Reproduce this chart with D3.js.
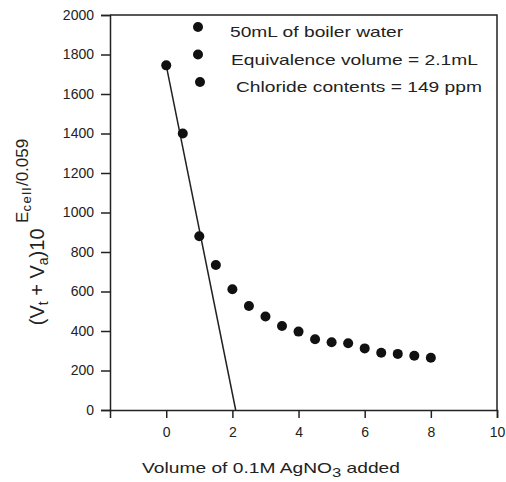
<!DOCTYPE html>
<html>
<head>
<meta charset="utf-8">
<script src="https://cdn.jsdelivr.net/npm/d3@7"></script>
<style>
  html, body { margin: 0; padding: 0; background: #fff; }
  svg { display: block; }
  text { font-family: "Liberation Sans", Arial, sans-serif; fill: #222; }
</style>
</head>
<body>
<svg id="chart" width="506" height="482"></svg>
<script>
// Titration data: volume of AgNO3 added (mL) vs Gran function value
const volumes = [0, 0.5, 1.0, 1.5, 2.0, 2.5, 3.0, 3.5, 4.0, 4.5, 5.0, 5.5, 6.0, 6.5, 7.0, 7.5, 8.0];
const granValues = [1745, 1400, 880, 734, 611, 527, 473, 425, 397, 358, 343, 338, 312, 290, 284, 275, 265];

// Linear fit through the early points, extrapolated to the equivalence volume
const fitX = [0, 2.1];
const fitY = [1745, 0];

const xTicks = [0, 2, 4, 6, 8, 10];
const yTicks = [0, 200, 400, 600, 800, 1000, 1200, 1400, 1600, 1800, 2000];

const legendLines = [
  "50mL of boiler water",
  "Equivalence volume = 2.1mL",
  "Chloride contents = 149 ppm"
];

const svg = d3.select("#chart");
const plotLeft = 110, plotRight = 497, plotTop = 15, plotBottom = 410;

const x = d3.scaleLinear().domain([-1.7, 10]).range([plotLeft, plotRight]);
const y = d3.scaleLinear().domain([0, 2000]).range([plotBottom, plotTop]);

const ink = "#222";
const wide = 1.28; // horizontal stretch applied to the annotation text

// Frame (top and right edges)
svg.append("path")
  .attr("d", `M${plotLeft},${plotTop}H${plotRight}V${plotBottom}`)
  .attr("fill", "none").attr("stroke", ink).attr("stroke-width", 1.5);

// Axes
const yAxis = svg.append("g")
  .attr("transform", `translate(${plotLeft},0)`)
  .call(d3.axisLeft(y).tickValues(yTicks).tickFormat(d3.format("d"))
    .tickSizeOuter(0).tickSize(9).tickPadding(7));
const xAxis = svg.append("g")
  .attr("transform", `translate(0,${plotBottom})`)
  .call(d3.axisBottom(x).tickValues(xTicks).tickFormat(d3.format("d"))
    .tickSizeOuter(0).tickSize(8).tickPadding(9));

[yAxis, xAxis].forEach(g => {
  g.select(".domain").attr("stroke", ink).attr("stroke-width", 1.5);
  g.selectAll(".tick line").attr("stroke", ink).attr("stroke-width", 1.5);
  g.selectAll(".tick text")
    .attr("font-family", "'Liberation Sans', Arial, sans-serif")
    .attr("font-size", 14).attr("fill", ink);
});

// Fitted line
svg.append("path")
  .datum(fitX.map((v, i) => [v, fitY[i]]))
  .attr("d", d3.line().x(d => x(d[0])).y(d => y(d[1])))
  .attr("fill", "none").attr("stroke", ink).attr("stroke-width", 1.5);

// Data points
svg.append("g").selectAll("circle")
  .data(volumes.map((v, i) => [v, granValues[i]]))
  .join("circle")
  .attr("cx", d => x(d[0])).attr("cy", d => y(d[1]))
  .attr("r", 5).attr("fill", "#111");

// Legend / annotation block
const legend = svg.append("g");
const legendMarkerX = [198, 198, 200];
const legendTextX = [230, 231, 236];
legendLines.forEach((t, i) => {
  const cy = 27 + i * 27.5;
  legend.append("circle").attr("cx", legendMarkerX[i]).attr("cy", cy).attr("r", 5).attr("fill", "#111");
  legend.append("text")
    .attr("transform", `translate(${legendTextX[i]},${cy + 10}) scale(${wide},1)`)
    .attr("font-size", 15)
    .text(t);
});

// X axis title with subscript
const xt = svg.append("text")
  .attr("transform", `translate(271,473) scale(${wide},1)`)
  .attr("text-anchor", "middle")
  .attr("font-size", 15);
xt.append("tspan").text("Volume of 0.1M AgNO");
xt.append("tspan").attr("dy", 4).attr("font-size", 13).text("3");
xt.append("tspan").attr("dy", -4).text(" added");

// Y axis title: (Vt + Va)10^(Ecell/0.059)
const yt = svg.append("text")
  .attr("transform", "translate(44,232) rotate(-90)")
  .attr("text-anchor", "middle")
  .attr("font-size", 20);
yt.append("tspan").text("(V");
yt.append("tspan").attr("dy", 4).attr("font-size", 14).text("t");
yt.append("tspan").attr("dy", -4).text(" + V");
yt.append("tspan").attr("dy", 4).attr("font-size", 14).text("a");
yt.append("tspan").attr("dy", -4).text(")10 ");
yt.append("tspan").attr("dy", -16).attr("font-size", 17).text("E");
yt.append("tspan").attr("dy", 3).attr("font-size", 13).attr("letter-spacing", 1.5).text("cell");
yt.append("tspan").attr("dy", -3).attr("font-size", 17).text("/0.059");
</script>
</body>
</html>
